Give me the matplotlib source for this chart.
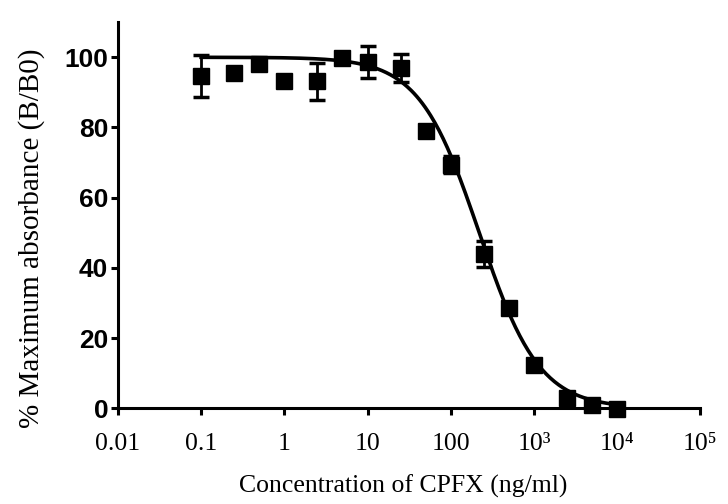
import numpy as np
import matplotlib
matplotlib.use("Agg")
import matplotlib.pyplot as plt

# Data
conc = np.array([0.1, 0.25, 0.5, 1, 2.5, 5, 10, 25, 50, 100, 250, 500,
                 1000, 2500, 5000, 10000])
bb0 = np.array([94.6, 95.5, 98.0, 93.3, 93.1, 99.8, 98.6, 97.0, 79.0, 69.4,
                43.9, 28.6, 12.3, 2.8, 1.0, -0.2])
err = np.array([6.0, 0, 0, 0, 5.3, 0, 4.6, 4.0, 0, 2.5, 3.7, 0, 0, 0, 0, 0])

# 4-parameter logistic fit (top, bottom, IC50, hill)
top, bottom, ic50, hill = 100.0, 0.0, 220.0, 1.2

xticks = [0.01, 0.1, 1, 10, 100, 1e3, 1e4, 1e5]
xticklabels = ["0.01", "0.1", "1", "10", "100", "10³", "10⁴", "10⁵"]
yticks = [0, 20, 40, 60, 80, 100]

serif = ["Liberation Serif", "DejaVu Serif"]

fig = plt.figure(figsize=(7.28, 5.04), dpi=100)
ax = fig.add_axes([0.162, 0.19, 0.80, 0.766])

xs = np.logspace(np.log10(conc[0]), np.log10(conc[-1]), 300)
fit = bottom + (top - bottom) / (1 + (xs / ic50) ** hill)
ax.plot(xs, fit, color="black", lw=2.6, clip_on=False, zorder=2)

m = err > 0
ax.errorbar(conc[m], bb0[m], yerr=err[m], fmt="none", ecolor="black",
            elinewidth=2, capsize=6, capthick=2.5, clip_on=False, zorder=3)
ax.plot(conc, bb0, "s", color="black", ms=11.5, clip_on=False, zorder=4)

ax.set_xscale("log")
ax.set_xlim(0.01, 1e5)
ax.set_ylim(0, 110)
ax.set_xticks(xticks)
ax.set_xticklabels(xticklabels, fontfamily=serif, fontsize=18.5)
ax.minorticks_off()
ax.set_yticks(yticks)
ax.set_yticklabels([str(v) for v in yticks], fontfamily="Liberation Sans",
                   fontweight="bold", fontsize=19)

for s in ["top", "right"]:
    ax.spines[s].set_visible(False)
for s in ["left", "bottom"]:
    ax.spines[s].set_linewidth(2.2)
ax.tick_params(axis="both", direction="out", length=5, width=2.2)
ax.tick_params(axis="y", pad=2)
ax.tick_params(axis="x", pad=13)

ax.set_xlabel("Concentration of CPFX (ng/ml)", fontfamily=serif,
              fontsize=18.5)
ax.xaxis.set_label_coords(0.49, -0.172)
ax.set_ylabel("% Maximum absorbance (B/B0)", fontfamily=serif,
              fontsize=21)
ax.yaxis.set_label_coords(-0.125, 0.44)

fig.savefig("out.png", dpi=100)
